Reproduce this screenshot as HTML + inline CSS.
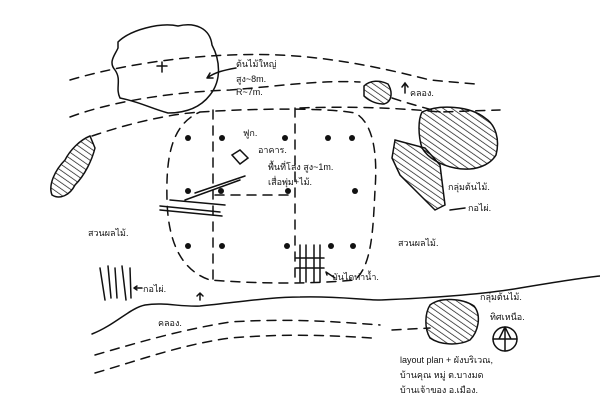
<!DOCTYPE html>
<html><head><meta charset="utf-8"><style>
html,body{margin:0;padding:0;background:#fff}
svg{display:block}
text{font-family:"Liberation Sans","Noto Sans CJK SC",sans-serif;fill:#111;font-size:9px}
</style></head><body>
<svg width="600" height="400" viewBox="0 0 600 400" xmlns="http://www.w3.org/2000/svg">
<defs>
<pattern id="h" width="5" height="5" patternUnits="userSpaceOnUse" patternTransform="rotate(-55)">
<line x1="0" y1="0" x2="0" y2="5" stroke="#111" stroke-width="1.4"/></pattern>
</defs>
<g fill="none" stroke="#111" stroke-width="1.5" stroke-linecap="round">
<path d="M118,42 C130,30 160,22 178,26 C195,22 210,28 212,45 C220,60 222,80 210,95 C200,108 185,113 168,113 C150,108 140,102 120,98 C115,88 122,80 115,70 C108,62 115,55 118,48 Z"/>
<path d="M157,66 h10 M162,62 v10"/>
<path d="M236,68 C225,70 215,72 207,78 M207,78 l3,-5 M207,78 l6,0"/>
<g stroke-dasharray="9,7">
<path d="M70,80 C110,68 170,57 230,55 C300,52 360,62 430,80 L475,84"/>
<path d="M70,117 C110,102 170,92 230,90 C280,86 320,80 360,82"/>
<path d="M92,136 C130,123 170,114 200,112"/>
<path d="M300,108 C350,106 400,108 440,112 L500,110"/>
<path d="M392,98 C410,104 425,108 440,112"/>
<path d="M200,112 C260,108 330,108 355,113 C372,122 378,150 375,190 C373,230 372,265 355,280 C300,285 250,283 210,280 C180,270 168,240 167,200 C166,160 170,125 200,112"/>
<path d="M213,110 V282 M295,108 V280 M215,195 H295"/>
<path d="M95,355 C140,342 180,330 230,322 C290,318 340,322 380,325"/>
<path d="M95,373 C140,360 180,345 230,338 C290,333 340,336 372,338"/>
<path d="M392,330 L430,328"/>
</g>
<path d="M92,334 C115,325 130,308 145,305 C165,302 180,307 200,306 C240,302 270,297 300,297 C340,296 360,300 380,300 C430,298 480,295 520,288 C550,283 580,278 600,276"/>
<g fill="url(#h)">
<path d="M364,86 C370,80 380,80 388,84 C393,92 392,102 384,104 C375,104 368,100 364,96 Z"/>
<path d="M422,112 C440,104 470,106 485,118 C496,125 500,140 496,155 C490,165 475,172 455,168 C440,165 428,158 422,148 C418,135 418,120 422,112 Z"/>
<path d="M395,140 L425,148 L440,165 L445,205 L435,210 L420,195 L400,175 L392,158 Z"/>
<path d="M430,305 C440,297 462,298 474,306 C482,316 478,332 470,340 C458,346 440,345 430,338 C424,328 425,313 430,305 Z"/>
<path d="M90,136 C80,140 70,150 65,160 C55,170 48,185 52,195 C60,200 70,195 75,185 C85,175 92,160 95,148 Z"/>
</g>
<path d="M300,245 V282 M306,245 V282 M314,245 V282 M320,245 V282 M296,258 H324 M296,268 H324"/>
<path d="M100,268 L105,300 M108,266 L111,298 M115,268 L117,298 M122,266 L126,300 M130,268 L131,298"/>
<path d="M160,206 L220,212 M160,210 L222,216 M170,200 L225,205 M185,200 L240,180 M195,193 L245,176"/>
<path d="M232,155 L240,150 L248,158 L240,164 Z"/>
<circle cx="505" cy="339" r="12"/>
<path d="M505,327 V351 M493,339 H517 M505,327 L499,339 M505,327 L511,339"/>
<path d="M405,93 V83 M402,87 L405,83 L408,87"/>
<path d="M200,300 V293 M197,296 L200,293 L203,296"/>
<path d="M134,288 H142 M134,288 l3,-2 M134,288 l3,2"/>
<path d="M326,272 L335,278 M326,272 l1,3"/>
<path d="M450,210 L465,208"/>
</g>
<g fill="#111">
<circle cx="188" cy="138" r="3"/><circle cx="222" cy="138" r="3"/><circle cx="285" cy="138" r="3"/><circle cx="328" cy="138" r="3"/><circle cx="352" cy="138" r="3"/>
<circle cx="188" cy="191" r="3"/><circle cx="221" cy="191" r="3"/><circle cx="288" cy="191" r="3"/><circle cx="355" cy="191" r="3"/>
<circle cx="188" cy="246" r="3"/><circle cx="222" cy="246" r="3"/><circle cx="287" cy="246" r="3"/><circle cx="331" cy="246" r="3"/><circle cx="353" cy="246" r="3"/>
</g>
<text x="236" y="67">ต้นไม้ใหญ่</text>
<text x="236" y="82">สูง~8m.</text>
<text x="236" y="95">R~7m.</text>
<text x="410" y="96">คลอง.</text>
<text x="243" y="136">ฟูก.</text>
<text x="258" y="153">อาคาร.</text>
<text x="268" y="170">พื้นที่โล่ง สูง~1m.</text>
<text x="268" y="185">เสื่อพุ่ม+ไม้.</text>
<text x="88" y="236">สวนผลไม้.</text>
<text x="398" y="246">สวนผลไม้.</text>
<text x="448" y="190">กลุ่มต้นไม้.</text>
<text x="468" y="211">กอไผ่.</text>
<text x="332" y="280">บันไดท่าน้ำ.</text>
<text x="143" y="292">กอไผ่.</text>
<text x="158" y="326">คลอง.</text>
<text x="480" y="300">กลุ่มต้นไม้.</text>
<text x="490" y="320">ทิศเหนือ.</text>
<text x="400" y="363" font-size="10">layout plan + ผังบริเวณ,</text>
<text x="400" y="378" font-size="10">บ้านคุณ หมู่ ต.บางมด</text>
<text x="400" y="393" font-size="10">บ้านเจ้าของ อ.เมือง.</text>
</svg>
</body></html>
